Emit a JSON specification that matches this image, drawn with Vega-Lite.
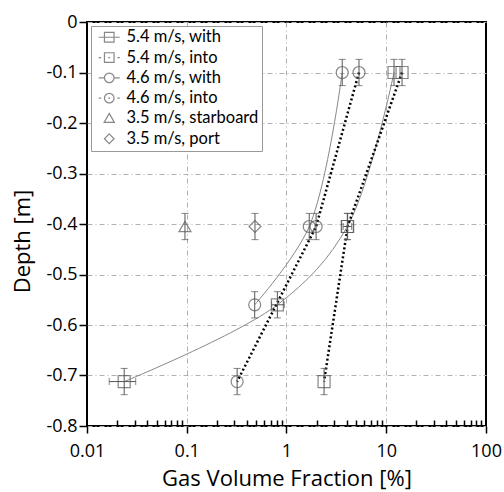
{
  "$schema": "https://vega.github.io/schema/vega-lite/v6.json",
  "width": 399,
  "height": 404,
  "autosize": {"type": "none"},
  "padding": {"left": 87, "top": 22, "right": 18, "bottom": 66},
  "background": "white",
  "config": {"font": "Open Sans", "view": {"stroke": "#000", "strokeWidth": 2}},
  "datasets": {
    "pts": [
      {"s": "5.4 m/s, with", "x": 11.96, "y": -0.1, "ylo": -0.126, "yhi": -0.074},
      {"s": "5.4 m/s, with", "x": 4.07, "y": -0.405, "ylo": -0.431, "yhi": -0.379, "xlo": 3.7, "xhi": 4.5},
      {"s": "5.4 m/s, with", "x": 0.81, "y": -0.56, "ylo": -0.586, "yhi": -0.534, "xlo": 0.71, "xhi": 0.95},
      {"s": "5.4 m/s, with", "x": 0.0236, "y": -0.712, "ylo": -0.738, "yhi": -0.686, "xlo": 0.0167, "xhi": 0.0308},
      {"s": "5.4 m/s, into", "x": 14.4, "y": -0.1, "ylo": -0.126, "yhi": -0.074},
      {"s": "5.4 m/s, into", "x": 4.1, "y": -0.405, "ylo": -0.431, "yhi": -0.379},
      {"s": "5.4 m/s, into", "x": 2.38, "y": -0.712, "ylo": -0.738, "yhi": -0.686},
      {"s": "4.6 m/s, with", "x": 3.62, "y": -0.1, "ylo": -0.126, "yhi": -0.074},
      {"s": "4.6 m/s, with", "x": 1.69, "y": -0.405, "ylo": -0.431, "yhi": -0.379},
      {"s": "4.6 m/s, with", "x": 0.48, "y": -0.56, "ylo": -0.586, "yhi": -0.534},
      {"s": "4.6 m/s, into", "x": 5.33, "y": -0.1, "ylo": -0.126, "yhi": -0.074},
      {"s": "4.6 m/s, into", "x": 1.98, "y": -0.405, "ylo": -0.431, "yhi": -0.379},
      {"s": "4.6 m/s, into", "x": 0.32, "y": -0.712, "ylo": -0.738, "yhi": -0.686},
      {"s": "3.5 m/s, starboard", "x": 0.096, "y": -0.405, "ylo": -0.431, "yhi": -0.379},
      {"s": "3.5 m/s, port", "x": 0.483, "y": -0.405, "ylo": -0.431, "yhi": -0.379}
    ]
  },
  "data": {"name": "pts"},
  "resolve": {"scale": {"shape": "independent"}, "legend": {"shape": "independent"}},
  "layer": [
    {
      "transform": [{"filter": {"field": "s", "oneOf": ["5.4 m/s, with", "4.6 m/s, with"]}}],
      "mark": {"type": "line", "interpolate": "catmull-rom", "stroke": "#888", "strokeWidth": 1},
      "encoding": {
        "x": {
          "field": "x", "type": "quantitative", "title": "Gas Volume Fraction [%]",
          "scale": {"type": "log", "domain": [0.01, 100], "nice": false},
          "axis": {
            "titleFontSize": 22, "titleFontWeight": "normal", "titleColor": "#000", "titlePadding": 8,
            "values": [0.01, 0.02, 0.03, 0.04, 0.05, 0.06, 0.07, 0.08, 0.09, 0.1, 0.2, 0.3, 0.4, 0.5, 0.6, 0.7, 0.8, 0.9, 1, 2, 3, 4, 5, 6, 7, 8, 9, 10, 20, 30, 40, 50, 60, 70, 80, 90, 100],
            "labelExpr": "datum.value == 0.01 ? '0.01' : datum.value == 0.1 ? '0.1' : datum.value == 1 ? '1' : datum.value == 10 ? '10' : datum.value == 100 ? '100' : ''",
            "labelOverlap": false, "labelBound": false, "labelFlush": false,
            "labelFontSize": 18, "labelColor": "#000", "labelPadding": 9,
            "domain": false,
            "tickColor": "#000", "tickWidth": 1.5,
            "tickSize": {"condition": {"test": "datum.value == 0.01 || datum.value == 0.1 || datum.value == 1 || datum.value == 10 || datum.value == 100", "value": 7}, "value": -6},
            "grid": true, "gridColor": "#b0b0b0", "gridWidth": 1, "gridDash": [5, 3, 1, 3],
            "gridOpacity": {"condition": {"test": "datum.value == 0.1 || datum.value == 1 || datum.value == 10", "value": 1}, "value": 0}
          }
        },
        "y": {
          "field": "y", "type": "quantitative", "title": "Depth [m]",
          "scale": {"domain": [-0.8, 0], "nice": false},
          "axis": {
            "titleFontSize": 22, "titleFontWeight": "normal", "titleColor": "#000", "titlePadding": 11, "titleY": 219,
            "values": [0, -0.1, -0.2, -0.3, -0.4, -0.5, -0.6, -0.7, -0.8],
            "labelExpr": "datum.value == 0 ? '0' : '-' + format(-datum.value, '.1f')",
            "labelFontSize": 18, "labelColor": "#000", "labelPadding": 2,
            "domain": false,
            "tickColor": "#000", "tickWidth": 1.5, "tickSize": 8,
            "grid": true, "gridColor": "#b0b0b0", "gridWidth": 1, "gridDash": [5, 3, 1, 3]
          }
        },
        "detail": {"field": "s"},
        "order": {"field": "y", "sort": "descending"}
      }
    },
    {
      "transform": [{"filter": {"field": "s", "oneOf": ["5.4 m/s, into", "4.6 m/s, into"]}}],
      "mark": {"type": "line", "stroke": "#000", "strokeWidth": 2.5, "strokeDash": [2, 2.5]},
      "encoding": {
        "x": {"field": "x", "type": "quantitative", "title": "Gas Volume Fraction [%]"},
        "y": {"field": "y", "type": "quantitative", "title": "Depth [m]"},
        "detail": {"field": "s"},
        "order": {"field": "y", "sort": "descending"}
      }
    },
    {
      "mark": {"type": "rule", "stroke": "#555", "strokeWidth": 1},
      "encoding": {
        "x": {"field": "x", "type": "quantitative", "title": "Gas Volume Fraction [%]"},
        "y": {"field": "ylo", "type": "quantitative", "title": "Depth [m]"},
        "y2": {"field": "yhi"}
      }
    },
    {
      "mark": {"type": "point", "shape": "stroke", "size": 49, "stroke": "#555", "strokeWidth": 1, "filled": false},
      "encoding": {
        "x": {"field": "x", "type": "quantitative", "title": "Gas Volume Fraction [%]"},
        "y": {"field": "ylo", "type": "quantitative", "title": "Depth [m]"}
      }
    },
    {
      "mark": {"type": "point", "shape": "stroke", "size": 49, "stroke": "#555", "strokeWidth": 1, "filled": false},
      "encoding": {
        "x": {"field": "x", "type": "quantitative", "title": "Gas Volume Fraction [%]"},
        "y": {"field": "yhi", "type": "quantitative", "title": "Depth [m]"}
      }
    },
    {
      "transform": [{"filter": "isValid(datum.xlo)"}],
      "mark": {"type": "rule", "stroke": "#555", "strokeWidth": 1},
      "encoding": {
        "x": {"field": "xlo", "type": "quantitative", "title": "Gas Volume Fraction [%]"},
        "x2": {"field": "xhi"},
        "y": {"field": "y", "type": "quantitative", "title": "Depth [m]"}
      }
    },
    {
      "transform": [{"filter": "isValid(datum.xlo)"}],
      "mark": {"type": "point", "shape": "M0,-1V1", "size": 49, "stroke": "#555", "strokeWidth": 1, "filled": false},
      "encoding": {
        "x": {"field": "xlo", "type": "quantitative", "title": "Gas Volume Fraction [%]"},
        "y": {"field": "y", "type": "quantitative", "title": "Depth [m]"}
      }
    },
    {
      "transform": [{"filter": "isValid(datum.xlo)"}],
      "mark": {"type": "point", "shape": "M0,-1V1", "size": 49, "stroke": "#555", "strokeWidth": 1, "filled": false},
      "encoding": {
        "x": {"field": "xhi", "type": "quantitative", "title": "Gas Volume Fraction [%]"},
        "y": {"field": "y", "type": "quantitative", "title": "Depth [m]"}
      }
    },
    {
      "mark": {"type": "point", "filled": false, "size": 144, "stroke": "#555", "strokeWidth": 1.2},
      "encoding": {
        "x": {"field": "x", "type": "quantitative", "title": "Gas Volume Fraction [%]"},
        "y": {"field": "y", "type": "quantitative", "title": "Depth [m]"},
        "shape": {
          "field": "s", "type": "nominal",
          "scale": {
            "domain": ["5.4 m/s, with", "5.4 m/s, into", "4.6 m/s, with", "4.6 m/s, into", "3.5 m/s, starboard", "3.5 m/s, port"],
            "range": ["square", "square", "circle", "circle", "triangle-up", "diamond"]
          },
          "legend": null
        }
      }
    },
    {
      "transform": [{"filter": "false"}],
      "mark": {"type": "point", "filled": false, "size": 144, "stroke": "#555", "strokeWidth": 1.2},
      "encoding": {
        "x": {"field": "x", "type": "quantitative", "title": "Gas Volume Fraction [%]"},
        "y": {"field": "y", "type": "quantitative", "title": "Depth [m]"},
        "shape": {
          "field": "s", "type": "nominal",
          "scale": {
            "domain": ["5.4 m/s, with", "5.4 m/s, into", "4.6 m/s, with", "4.6 m/s, into", "3.5 m/s, starboard", "3.5 m/s, port"],
            "range": [
              "M-1.75,0H1.75M-0.8,-0.8H0.8V0.8H-0.8Z",
              "M-1.75,0H-1.35M1.35,0H1.75M-0.15,0H0.15M-0.8,-0.8H0.8V0.8H-0.8Z",
              "M-1.75,0H-0.8M0.8,0H1.75M0.8,0A0.8,0.8,0,1,1,-0.8,0A0.8,0.8,0,1,1,0.8,0Z",
              "M-1.75,0H-1.35M1.35,0H1.75M-0.15,0H0.15M0.8,0A0.8,0.8,0,1,1,-0.8,0A0.8,0.8,0,1,1,0.8,0Z",
              "M0,-0.85L0.85,0.65L-0.85,0.65Z",
              "M0,-0.8L0.8,0L0,0.8L-0.8,0Z"
            ]
          },
          "legend": {
            "title": null, "orient": "top-left", "offset": 4, "padding": 3,
            "strokeColor": "#999", "fillColor": "white",
            "labelFont": "Lato", "labelFontSize": 16.5, "labelColor": "#000", "labelOffset": 9,
            "symbolOffset": 7,
            "symbolSize": 144, "symbolStrokeWidth": 1.2, "symbolStrokeColor": "#555", "symbolFillColor": "transparent",
            "rowPadding": 3.3
          }
        }
      }
    }
  ]
}
